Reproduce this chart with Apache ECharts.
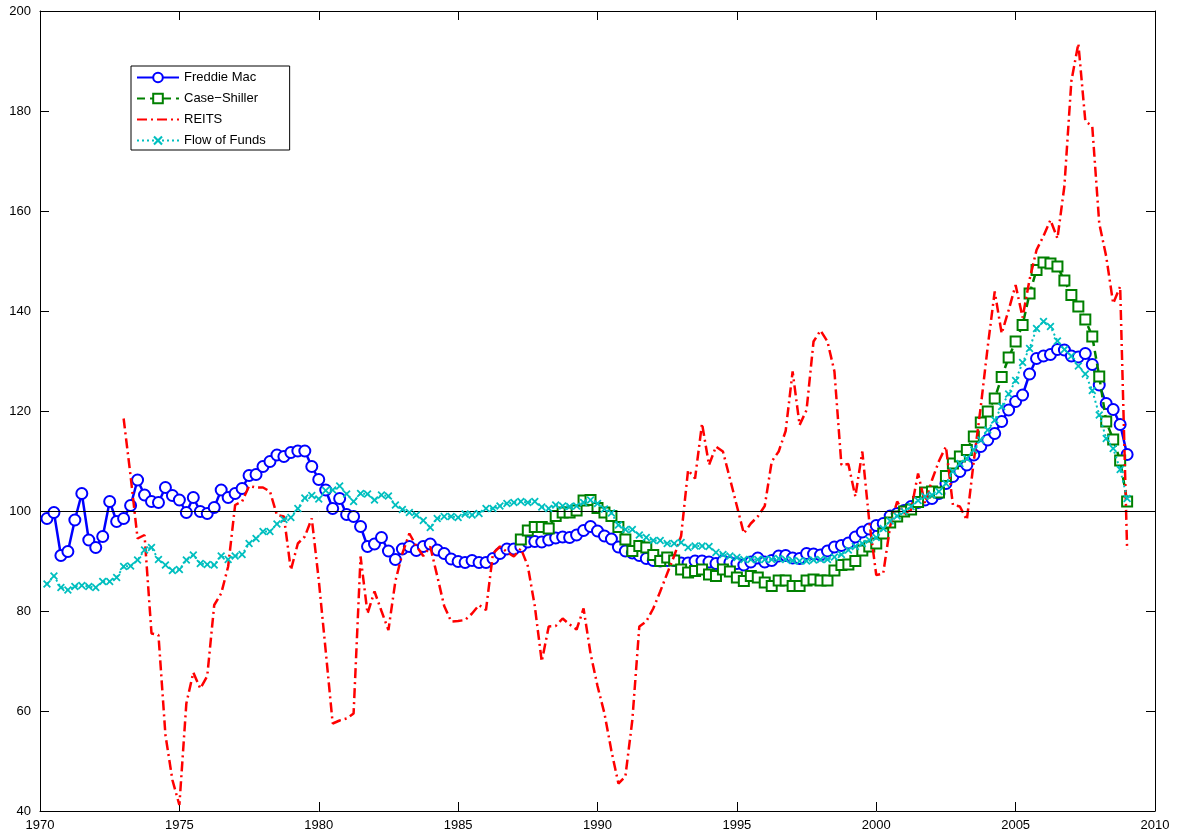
<!DOCTYPE html>
<html><head><meta charset="utf-8">
<script src="https://cdn.jsdelivr.net/npm/echarts@6/dist/echarts.min.js"></script>
<style>html,body{margin:0;padding:0;background:#fff}#c{width:1184px;height:834px}</style>
</head><body><div id="c"></div>
<script>
// Quarterly series; first value's date given by the start year
const freddieStart = 1970.25;
const freddieMac = [98.5,99.7,91.1,91.9,98.2,103.5,94.2,92.7,94.9,101.9,97.9,98.5,101.1,106.2,103.2,101.9,101.7,104.7,103.1,102.2,
99.7,102.7,99.9,99.5,100.7,104.2,102.7,103.5,104.5,107.1,107.3,108.9,109.9,111.2,110.9,111.7,112,112,108.9,106.3,
104.2,100.5,102.5,99.3,98.9,96.9,92.9,93.4,94.7,92,90.3,92.4,92.9,92.1,92.9,93.4,92.2,91.5,90.4,89.9,
89.7,90.1,89.7,89.7,90.5,91.5,92.4,92.4,92.9,93.8,93.9,93.8,94.2,94.6,94.8,94.7,95.2,96.1,96.9,96,
95,94.4,92.8,92,91.6,91.1,90.5,90.1,90,90.1,90.1,89.6,89.6,90,90,89.8,89.5,90,89.7,89.5,
89.2,89.8,90.6,89.8,90.1,91,91.1,90.6,90.5,91.5,91.4,91.2,92,92.8,93.1,93.6,94.8,95.8,96.4,97.1,
97.5,99,99.5,100.1,100.9,101.7,102.2,102.5,103.5,105.5,106.9,107.9,109.2,111.2,112.9,114.2,115.5,117.9,120.2,121.9,
123.2,127.4,130.5,131,131.3,132.3,132.2,131,130.8,131.5,129.3,125.2,121.5,120.3,117.3,111.3];

const caseShillerStart = 1987.25;
const caseShiller = [94.3,96.1,96.8,96.8,96.5,99,99.7,99.7,100.1,102.1,102.2,100.6,99.7,99,96.8,94.3,92,93,92.7,91.2,
90,90.7,90.1,88.3,87.7,88,88.3,87.3,87,88.3,87.9,86.7,86,87,86.7,85.7,85,86.1,86.1,85,
85,86.1,86.3,86.1,86.1,88.1,89.2,89.3,90,92.1,92.9,93.5,95.5,97.7,98.9,99.9,100.3,101.8,103.7,103.9,
103.7,107,109.5,110.9,112.2,114.9,117.7,119.9,122.5,126.8,130.7,133.9,137.2,143.5,148.2,149.7,149.5,148.9,146.1,143.2,
140.9,138.3,134.9,126.9,117.9,114.3,110.1,101.9];

const reitsStart = 1973.0;
const reits = [118.5,107,94.5,95.2,75.5,75.2,55.2,46.2,41.2,61.5,67.7,64.5,67,81.2,83.5,88.9,101.2,101.9,105,104.7,
104.7,103.9,99.2,98.9,88.2,93.5,94.9,98.5,86.2,72,57.5,58.1,58.5,59.5,90.9,79.5,83.9,80,76.2,86,
91.5,95.5,93,91,92.9,87,81,77.9,78,78.2,79.5,81.2,80.2,91.5,92.9,91.8,90.9,92.5,89,81,
69.9,76.9,77,78.5,77.3,76.3,80.5,71.5,65,59.5,52,45.5,46.9,58.2,76.9,77.9,80.5,83.9,87.5,91,
95,108.2,106.5,117.5,109.2,112.9,111.9,106.5,101,95.5,97.5,98.9,101,109.9,111.9,116,127.9,117.2,120.2,133.9,
136.1,133.9,127.9,109.2,109.4,102.9,111.9,97.9,87.2,87.5,97,101.9,99.5,100.2,107.5,101.5,106.2,110,112.9,101.2,
100.9,98.2,110,120.9,132.9,143.9,135.5,140.2,145.2,138.7,146.3,152.2,155,158.2,154.5,165,186,193.5,178,176.9,
157.5,150.9,141.5,144.9,92.2];

const flowStart = 1970.25;
const flowOfFunds = [85.4,87,84.7,84.2,84.9,85.1,84.9,84.7,85.9,85.9,86.7,88.9,89,90.2,92.2,92.7,90.3,89.2,88.1,88.3,
90.2,91.2,89.5,89.3,89.2,91,90.3,91,91.3,93.5,94.5,95.9,95.9,97.4,98.3,98.7,100.5,102.6,103.1,102.4,
104.1,104.2,105,103.4,101.9,103.5,103.4,102.2,103.2,103,101.2,100.3,99.7,99.2,98.1,96.7,98.5,98.9,98.9,98.7,
99.4,99.2,99.5,100.5,100.5,101,101.5,101.7,101.9,101.7,101.9,100.8,100.5,101.2,101,100.9,101,101.7,102.2,101.5,
100.4,99.6,97.2,96.3,96.3,95.2,94.7,94.1,94.1,93.5,93.5,93.7,92.7,93,93,92.9,91.7,91.3,91,90.7,
90.3,90.3,90.3,90.3,90.3,90.5,90.3,90.1,90,90,90.2,90.3,90.3,90.8,91.3,92.2,92.9,93.5,94.2,94.7,
96.5,98,99,99.9,100.9,102.1,102.9,103.2,103.9,105.5,107.9,109.5,110.5,112.2,114.2,116.2,118.2,120.9,123.4,126.1,
129.7,132.5,136.5,137.9,136.9,134,132.3,131,129,127.4,124.1,119.2,114.5,112.5,108.3,102.5];

const xMin = 1970, xMax = 2010, xStep = 5;
const yMin = 40, yMax = 200, yStep = 20;
const refLevel = 100;

function pairs(start, vals){ return vals.map((v,i)=>[start + i*0.25, v]); }

const FONT = 'Liberation Sans, Arial, Helvetica, sans-serif';
const xMark = 'path://M0,1.6L1.6,0L5,3.4L8.4,0L10,1.6L6.6,5L10,8.4L8.4,10L5,6.6L1.6,10L0,8.4L3.4,5Z';

const axisCommon = {
  axisLine:{show:true,lineStyle:{color:'#000',width:1}},
  axisTick:{show:true,inside:true,length:9,lineStyle:{color:'#000',width:1}},
  splitLine:{show:false}
};
const plain = v => String(v);

const chart = echarts.init(document.getElementById('c'), null, {renderer:'canvas'});
chart.setOption({
  animation:false,
  backgroundColor:'#fff',
  grid:{left:40,right:29,top:11,bottom:23},
  xAxis:[
    Object.assign({type:'value',min:xMin,max:xMax,interval:xStep,position:'bottom',
      axisLabel:{color:'#000',fontSize:13,fontFamily:FONT,margin:8,formatter:plain}}, axisCommon),
    Object.assign({type:'value',min:xMin,max:xMax,interval:xStep,position:'top',
      axisLabel:{show:false}}, axisCommon)
  ],
  yAxis:[
    Object.assign({type:'value',min:yMin,max:yMax,interval:yStep,position:'left',
      axisLabel:{color:'#000',fontSize:13,fontFamily:FONT,margin:9,formatter:plain}}, axisCommon),
    Object.assign({type:'value',min:yMin,max:yMax,interval:yStep,position:'right',
      axisLabel:{show:false}}, axisCommon)
  ],
  legend:{
    orient:'vertical', left:131, top:66,
    backgroundColor:'#fff', borderColor:'#000', borderWidth:1,
    padding:[5,24,3,5], itemGap:8, itemWidth:42, itemHeight:12,
    textStyle:{color:'#000',fontSize:13,fontFamily:FONT},
    data:[
      {name:'Freddie Mac'},
      {name:'Case\u2212Shiller', itemStyle:{color:'#008000'}},
      {name:'REITS', itemStyle:{opacity:0}},
      {name:'Flow of Funds'}
    ]
  },
  series:[
    {name:'Freddie Mac',type:'line',data:pairs(freddieStart,freddieMac),
     symbol:'emptyCircle',symbolSize:11,showAllSymbol:true,
     lineStyle:{color:'#0000FF',width:2.5},
     itemStyle:{color:'#0000FF',borderColor:'#0000FF',borderWidth:2.5},
     markLine:{silent:true,symbol:'none',label:{show:false},
       lineStyle:{color:'#000',width:1,type:'solid'},data:[{yAxis:refLevel}]},
     z:2},
    {name:'Case\u2212Shiller',type:'line',data:pairs(caseShillerStart,caseShiller),
     symbol:'emptyRect',symbolSize:10,showAllSymbol:true,
     lineStyle:{color:'#008000',width:2.5,type:[8,5]},
     itemStyle:{color:'#008000',borderColor:'#008000',borderWidth:2.5},
     z:3},
    {name:'REITS',type:'line',data:pairs(reitsStart,reits),
     symbol:'none',
     lineStyle:{color:'#FF0000',width:2.5,type:[10,4,2,4]},
     itemStyle:{color:'#FF0000'},
     z:4},
    {name:'Flow of Funds',type:'line',data:pairs(flowStart,flowOfFunds),
     symbol:xMark,symbolSize:8,showAllSymbol:true,
     lineStyle:{color:'#00BFBF',width:2,type:[2,3]},
     itemStyle:{color:'#00BFBF',borderWidth:0},
     z:5}
  ]
});
</script></body></html>
